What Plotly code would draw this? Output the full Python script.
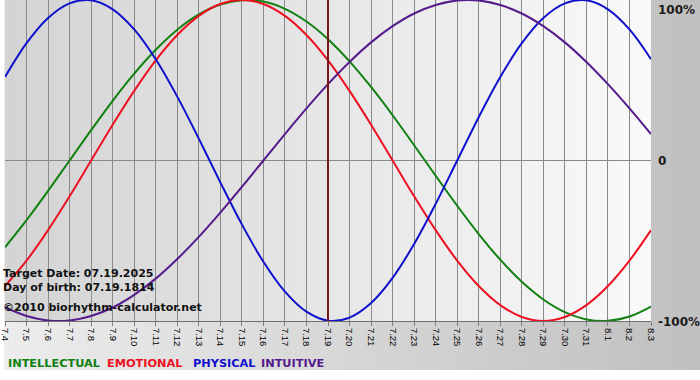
import plotly.graph_objects as go

# ---- data ----
dates = ["7.4", "7.5", "7.6", "7.7", "7.8", "7.9", "7.10", "7.11", "7.12", "7.13",
         "7.14", "7.15", "7.16", "7.17", "7.18", "7.19", "7.20", "7.21", "7.22", "7.23",
         "7.24", "7.25", "7.26", "7.27", "7.28", "7.29", "7.30", "7.31", "8.1", "8.2", "8.3"]
target_date = "7.19"

intellectual = [-0.541, -0.372, -0.189, 0.000, 0.189, 0.372, 0.541, 0.690, 0.815, 0.910,
                0.972, 0.999, 0.990, 0.945, 0.866, 0.756, 0.618, 0.458, 0.282, 0.095,
                -0.095, -0.282, -0.458, -0.618, -0.756, -0.866, -0.945, -0.990, -0.999, -0.972,
                -0.910]
emotional = [-0.782, -0.624, -0.434, -0.223, 0.000, 0.223, 0.434, 0.624, 0.782, 0.901,
             0.975, 1.000, 0.975, 0.901, 0.782, 0.624, 0.434, 0.223, 0.000, -0.223,
             -0.434, -0.624, -0.782, -0.901, -0.975, -1.000, -0.975, -0.901, -0.782, -0.624,
             -0.434]
physical = [0.520, 0.731, 0.888, 0.979, 0.998, 0.942, 0.817, 0.631, 0.398, 0.136,
            -0.136, -0.398, -0.631, -0.817, -0.942, -0.998, -0.979, -0.888, -0.731, -0.520,
            -0.270, 0.000, 0.270, 0.520, 0.731, 0.888, 0.979, 0.998, 0.942, 0.817,
            0.631]
intuitive = [-0.916, -0.969, -0.997, -0.997, -0.969, -0.916, -0.837, -0.736, -0.614, -0.476,
             -0.325, -0.165, 0.000, 0.165, 0.325, 0.476, 0.614, 0.736, 0.837, 0.916,
             0.969, 0.997, 0.997, 0.969, 0.916, 0.837, 0.736, 0.614, 0.476, 0.325,
             0.165]

series_names = ["INTELLECTUAL", "EMOTIONAL", "PHYSICAL", "INTUITIVE"]
series_values = [intellectual, emotional, physical, intuitive]
series_colors = ["#108010", "#ee1020", "#1010cc", "#551a8b"]

y_labels = ["100%", "0", "-100%"]
info_lines = ["Target Date: 07.19.2025", "Day of birth: 07.19.1814",
              "\u00a92010 biorhythm-calculator.net"]

# ---- geometry ----
W, H = 700, 380
L, R, T, B = 1, 49, 0, 59
PW, PH = W - L - R, H - T - B


def px_to_paper_x(px):
    return (px - L) / PW


def py_to_paper_y(py):
    return (H - B - py) / PH


def lerp_color(c0, c1, t):
    return "rgb(%d,%d,%d)" % tuple(round(a + (b - a) * t) for a, b in zip(c0, c1))


fig = go.Figure()

for name, vals, col in zip(series_names, series_values, series_colors):
    fig.add_trace(go.Scatter(x=dates, y=vals, mode="lines", name=name,
                             line=dict(color=col, width=2, shape="spline", smoothing=1.0),
                             showlegend=False, hoverinfo="skip"))

# target date marker
fig.add_trace(go.Scatter(x=[target_date, target_date], y=[-1, 1], mode="lines",
                         line=dict(color="#7a1818", width=2), showlegend=False,
                         hoverinfo="skip"))

shapes = []
# outer gradient background (light left -> darker right), down to y=370
n_out = 70
outer_c0, outer_c1 = (236, 236, 236), (192, 192, 192)
for i in range(n_out):
    x0 = i * W / n_out
    x1 = (i + 1) * W / n_out + 0.5
    shapes.append(dict(type="rect", xref="paper", yref="paper", layer="below",
                       x0=px_to_paper_x(x0), x1=px_to_paper_x(x1),
                       y0=py_to_paper_y(370), y1=py_to_paper_y(0),
                       fillcolor=lerp_color(outer_c0, outer_c1, i / (n_out - 1)),
                       line=dict(width=0)))
# plot-area gradient (darker left -> near white right)
n_in = 65
in_c0, in_c1 = (212, 212, 212), (249, 249, 249)
for i in range(n_in):
    shapes.append(dict(type="rect", xref="paper", yref="paper", layer="below",
                       x0=i / n_in, x1=min(1.0, (i + 1) / n_in + 0.001),
                       y0=0, y1=1,
                       fillcolor=lerp_color(in_c0, in_c1, i / (n_in - 1)),
                       line=dict(width=0)))

annotations = []
label_y = [1, 0, -1]
label_anchor = ["top", "middle", "middle"]
label_shift = [-1, 0, -1]
for txt, yv, ya, ys in zip(y_labels, label_y, label_anchor, label_shift):
    annotations.append(dict(text="<b>%s</b>" % txt, xref="paper", yref="y",
                            x=px_to_paper_x(656), y=yv, xanchor="left", yanchor=ya,
                            yshift=ys, showarrow=False,
                            font=dict(family="DejaVu Sans", size=12, color="#1a1a1a")))

info_py = [273, 287, 307]
for txt, py in zip(info_lines, info_py):
    annotations.append(dict(text="<b>%s</b>" % txt, xref="paper", yref="paper",
                            x=px_to_paper_x(2), y=py_to_paper_y(py), xshift=-5,
                            xanchor="left", yanchor="middle", showarrow=False,
                            font=dict(family="DejaVu Sans", size=11, color="#111111")))

legend_px = [7, 107, 193, 262]
for name, col, px in zip(series_names, series_colors, legend_px):
    annotations.append(dict(text="<b>%s</b>" % name, xref="paper", yref="paper",
                            x=px_to_paper_x(px), y=py_to_paper_y(363), xshift=-5,
                            xanchor="left", yanchor="middle", showarrow=False,
                            font=dict(family="DejaVu Sans", size=11.3, color=col)))

fig.update_layout(
    width=W, height=H,
    margin=dict(l=L, r=R, t=T, b=B, pad=0),
    paper_bgcolor="white",
    plot_bgcolor="rgba(0,0,0,0)",
    shapes=shapes,
    annotations=annotations,
    showlegend=False,
    xaxis=dict(type="category", categoryorder="array", categoryarray=dates,
               range=[0, len(dates) - 1], tickmode="array", tickvals=dates, ticktext=dates,
               showgrid=True, gridcolor="#8a8a8a", gridwidth=1,
               showline=True, linecolor="#707070", linewidth=1,
               ticks="outside", ticklen=4, tickcolor="#808080", tickwidth=1,
               tickangle=90, tickfont=dict(family="Liberation Sans", size=9.5, color="#000000"),
               zeroline=False, fixedrange=True),
    yaxis=dict(range=[-1, 1], showgrid=False, showticklabels=False,
               zeroline=True, zerolinecolor="#8a8a8a", zerolinewidth=1,
               showline=False, ticks="", fixedrange=True),
)

fig.write_html("out.html", config={"displayModeBar": False},
               post_script="document.body.style.margin='0px';document.body.style.padding='0px';")
